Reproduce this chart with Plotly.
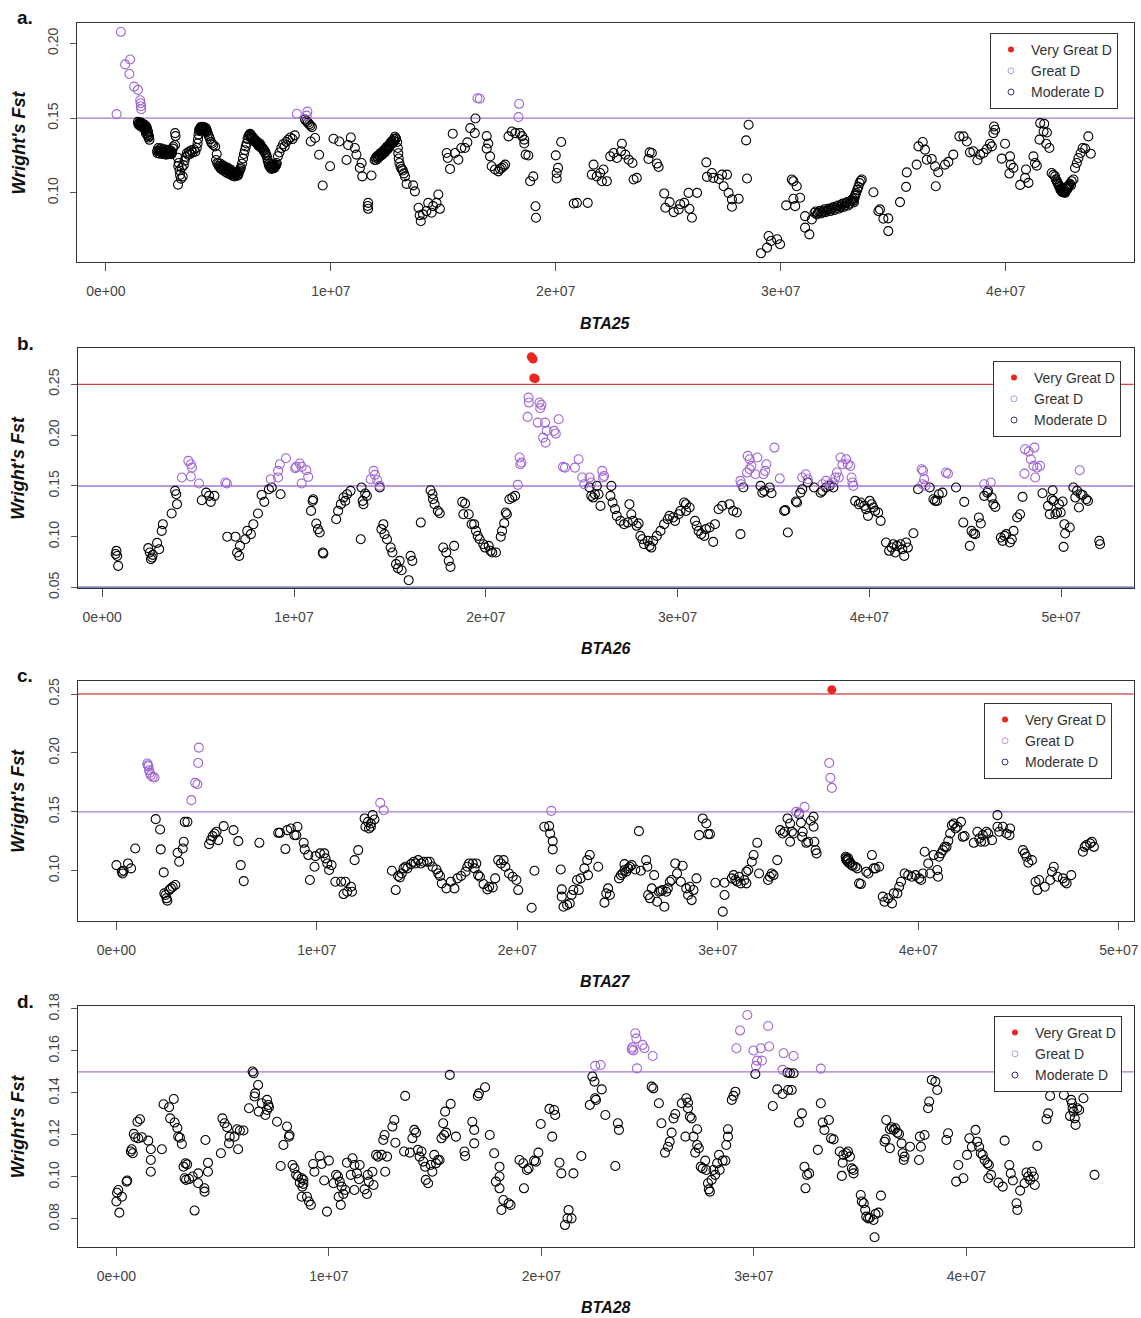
import plotly.graph_objects as go

# ---------------- DATA (positions in Mb, Wright's Fst) ----------------
A_MODERATE = [
    (1.43,0.1475),(1.48,0.1468),(1.52,0.1462),(1.56,0.1470),(1.6,0.1455),(1.63,0.1462),(1.66,0.1448),(1.7,0.1458),
    (1.73,0.1440),(1.76,0.1445),(1.8,0.1420),(1.83,0.1432),(1.78,0.1400),(1.85,0.1385),(1.9,0.1370),(1.94,0.1355),(1.88,0.1410),
    (1.45,0.1460),(1.5,0.1450),(1.55,0.1458),(1.58,0.1445),(1.62,0.1440),(1.68,0.1435),(1.72,0.1425),(1.75,0.1430),(1.8,0.1445),
    (1.84,0.1400),(1.87,0.1390),(1.92,0.1380),
    (2.28,0.1280),(2.33,0.1300),(2.37,0.1290),(2.41,0.1275),(2.45,0.1298),(2.5,0.1285),(2.54,0.1270),(2.58,0.1292),(2.62,0.1280),
    (2.66,0.1265),(2.7,0.1288),(2.74,0.1272),(2.78,0.1258),(2.82,0.1278),(2.86,0.1265),(2.9,0.1282),(2.94,0.1270),(2.98,0.1296),(3.0,0.1310),
    (2.3,0.1265),(2.35,0.1278),(2.4,0.1262),(2.46,0.1272),(2.52,0.1260),(2.56,0.1275),(2.6,0.1262),(2.64,0.1276),(2.68,0.1255),
    (2.72,0.1262),(2.76,0.1270),(2.8,0.1260),(2.84,0.1285),(2.88,0.1268),(2.92,0.1258),
    (3.08,0.1400),(3.1,0.1380),(3.08,0.1320),
    (3.2,0.1235),(3.24,0.1200),(3.22,0.1180),(3.28,0.1150),(3.3,0.1120),(3.21,0.1055),(3.34,0.1095),(3.38,0.1170),(3.42,0.1110),
    (3.46,0.1185),(3.5,0.1215),(3.55,0.1240),(3.6,0.1265),(3.66,0.1255),(3.7,0.1275),(3.75,0.1260),(3.8,0.1285),(3.86,0.1270),
    (3.92,0.1290),(3.98,0.1275),(4.04,0.1300),(4.08,0.1330),(4.1,0.1360),
    (4.12,0.1390),(4.15,0.1415),(4.18,0.1430),(4.22,0.1440),(4.26,0.1435),(4.3,0.1442),(4.34,0.1430),(4.38,0.1438),(4.42,0.1425),
    (4.46,0.1432),(4.5,0.1415),(4.54,0.1395),(4.58,0.1380),(4.63,0.1360),(4.68,0.1340),(4.72,0.1330),(4.78,0.1320),(4.86,0.1310),(4.93,0.1260),
    (4.16,0.1425),(4.2,0.1420),(4.24,0.1428),(4.28,0.1420),(4.32,0.1418),(4.36,0.1422),(4.4,0.1412),(4.44,0.1418),(4.48,0.1405),
    (4.9,0.1220),(4.95,0.1200),(5.0,0.1195),(5.05,0.1180),(5.1,0.1195),(5.15,0.1175),(5.2,0.1165),(5.25,0.1180),(5.3,0.1160),
    (5.35,0.1150),(5.4,0.1170),(5.45,0.1145),(5.5,0.1140),(5.55,0.1155),(5.6,0.1130),(5.65,0.1125),(5.7,0.1140),(5.75,0.1120),
    (5.8,0.1135),(5.85,0.1115),(5.9,0.1130),(5.95,0.1150),(6.0,0.1170),(6.05,0.1195),
    (5.02,0.1180),(5.08,0.1170),(5.12,0.1160),(5.18,0.1185),(5.22,0.1150),(5.28,0.1170),(5.32,0.1140),(5.38,0.1155),(5.42,0.1130),
    (5.48,0.1160),(5.52,0.1125),(5.58,0.1145),(5.62,0.1115),(5.68,0.1130),(5.72,0.1110),(5.78,0.1125),(5.82,0.1140),(5.88,0.1120),
    (5.92,0.1140),(5.98,0.1160),
    (6.1,0.1230),(6.14,0.1260),(6.18,0.1285),(6.22,0.1310),(6.26,0.1330),(6.3,0.1360),(6.34,0.1380),(6.38,0.1390),
    (6.42,0.1395),(6.46,0.1385),(6.5,0.1378),(6.55,0.1370),(6.6,0.1360),(6.65,0.1350),(6.7,0.1345),(6.75,0.1335),(6.8,0.1325),
    (6.85,0.1330),(6.9,0.1315),(6.95,0.1305),(7.0,0.1295),(7.05,0.1285),(7.1,0.1270),(7.15,0.1250),
    (6.44,0.1380),(6.48,0.1368),(6.52,0.1362),(6.58,0.1350),(6.62,0.1345),(6.68,0.1335),(6.72,0.1330),(6.78,0.1318),(6.82,0.1312),
    (6.88,0.1305),(6.92,0.1300),(6.98,0.1290),(7.02,0.1280),(7.08,0.1268),(7.12,0.1255),
    (7.18,0.1230),(7.22,0.1210),(7.26,0.1195),(7.3,0.1180),(7.34,0.1170),(7.38,0.1185),(7.42,0.1165),(7.46,0.1175),(7.5,0.1190),
    (7.55,0.1180),(7.6,0.1200),
    (7.2,0.1215),(7.24,0.1190),(7.28,0.1175),(7.32,0.1185),(7.36,0.1160),(7.4,0.1175),(7.44,0.1185),(7.48,0.1165),(7.52,0.1175),(7.58,0.1190),
    (7.65,0.1245),(7.72,0.1270),(7.8,0.1300),(7.88,0.1325),(7.95,0.1310),(8.02,0.1340),(8.1,0.1355),(8.2,0.1370),(8.3,0.1360),(8.4,0.1385),
    (8.86,0.1490),(8.92,0.1480),(8.98,0.1470),(9.04,0.1460),(9.1,0.1450),(9.16,0.1440),(9.11,0.1344),(9.3,0.1367),(9.48,0.1255),
    (9.64,0.1049),(9.97,0.1178),(10.12,0.1362),(10.38,0.1344),(10.7,0.1220),(10.77,0.1320),(10.89,0.1370),(11.07,0.1300),
    (11.14,0.1256),(11.29,0.1167),(11.37,0.1200),(11.4,0.1110),(11.66,0.0933),(11.66,0.0893),(11.64,0.0912),(11.81,0.1116),
    (11.95,0.1220),(12.0,0.1235),(12.05,0.1245),(12.1,0.1230),(12.15,0.1255),(12.2,0.1265),(12.25,0.1250),(12.3,0.1275),(12.35,0.1285),
    (12.4,0.1270),(12.45,0.1300),(12.5,0.1310),(12.55,0.1295),(12.6,0.1320),(12.65,0.1335),(12.7,0.1345),(12.75,0.1330),(12.8,0.1360),
    (12.85,0.1375),(12.9,0.1365),(12.95,0.1340),(12.98,0.1300),(13.0,0.1265),(13.02,0.1230),(13.05,0.1200),(13.1,0.1175),(13.15,0.1160),
    (13.2,0.1150),(13.25,0.1130),(13.3,0.1110),(13.37,0.1060),(13.66,0.1050),(13.74,0.1010),
    (12.02,0.1220),(12.08,0.1240),(12.12,0.1250),(12.18,0.1245),(12.22,0.1260),(12.28,0.1265),(12.32,0.1260),(12.38,0.1280),
    (12.42,0.1290),(12.48,0.1285),(12.52,0.1300),(12.58,0.1310),(12.62,0.1315),(12.68,0.1330),(12.72,0.1340),(12.78,0.1350),
    (12.82,0.1345),(12.88,0.1360),
    (13.9,0.0900),(14.0,0.0810),(13.95,0.0850),(14.1,0.0856),(14.25,0.0878),(14.33,0.0933),(14.48,0.0867),(14.55,0.0911),(14.7,0.0933),
    (14.78,0.0989),(14.85,0.0893),
    (15.15,0.1267),(15.2,0.1233),(15.3,0.1160),(15.42,0.1396),(15.52,0.1267),(15.67,0.1222),(15.8,0.1300),(15.96,0.1300),(16.07,0.1338),
    (16.2,0.1433),(16.4,0.1400),(16.43,0.1498),(16.93,0.1380),(17.0,0.1330),(17.08,0.1244),(16.93,0.1296),(17.15,0.1178),(17.3,0.1156),
    (17.45,0.1144),(17.52,0.1160),(17.6,0.1167),(17.68,0.1178),(17.75,0.1189),(17.9,0.1378),(18.05,0.1411),(18.2,0.1400),(18.4,0.1400),
    (18.5,0.1380),(18.6,0.1356),(18.6,0.1330),(18.66,0.1256),(18.78,0.1250),(18.86,0.1078),(19.0,0.1110),(19.1,0.0910),(19.12,0.0833),
    (20.0,0.1251),(20.04,0.1133),(20.1,0.1167),(20.04,0.1096),(20.24,0.1340),(20.8,0.0929),(20.94,0.0933),(21.42,0.0933),
    (21.68,0.1189),(21.6,0.1122),(21.82,0.1110),(21.97,0.1133),(22.05,0.1078),(22.27,0.1078),(22.12,0.1156),(22.42,0.1244),
    (22.57,0.1267),(22.72,0.1233),(22.94,0.1329),(22.9,0.1278),(23.09,0.1256),(23.24,0.1222),(23.41,0.1200),(23.46,0.1089),(23.6,0.1100),
    (24.17,0.1271),(24.27,0.1267),(24.12,0.1227),(24.5,0.1196),(24.57,0.1173),(24.82,0.0996),(24.87,0.0900),(25.06,0.0938),
    (25.24,0.0871),(25.46,0.0889),(25.53,0.0924),(25.71,0.0933),(25.9,0.1000),(25.94,0.0893),(26.05,0.0833),(26.28,0.1000),
    (26.69,0.1204),(26.72,0.1107),(26.94,0.1133),(27.0,0.1100),(27.25,0.1093),(27.39,0.1122),(27.46,0.1044),(27.61,0.1122),
    (27.68,0.1000),(27.83,0.0956),(27.83,0.0907),(28.13,0.0960),(28.46,0.1351),(28.5,0.1096),(28.57,0.1456),
    (29.12,0.0596),(29.39,0.0633),(29.46,0.0711),(29.57,0.0678),(29.84,0.0689),(29.97,0.0656),
    (30.24,0.0916),(30.56,0.0960),(30.64,0.0911),(30.49,0.1089),(30.56,0.1078),(30.71,0.1044),(30.86,0.0967),(31.08,0.0767),
    (31.27,0.0722),(31.38,0.0822),(31.08,0.0844),
    (31.5,0.0867),(31.6,0.0855),(31.7,0.0875),(31.8,0.0862),(31.9,0.0880),(32.0,0.0870),(32.1,0.0890),(32.2,0.0878),(32.3,0.0900),
    (32.4,0.0885),(32.5,0.0910),(32.6,0.0895),(32.7,0.0920),(32.8,0.0905),(32.9,0.0930),(33.0,0.0915),(33.1,0.0945),(33.2,0.0960),
    (33.25,0.0935),(33.3,0.0980),(33.35,0.1000),(33.4,0.1020),(33.45,0.1040),(33.5,0.1065),(33.55,0.1080),(33.6,0.1089),
    (31.55,0.0875),(31.65,0.0865),(31.75,0.0880),(31.85,0.0870),(31.95,0.0890),(32.05,0.0880),(32.15,0.0895),(32.25,0.0890),
    (32.35,0.0905),(32.45,0.0895),(32.55,0.0915),(32.65,0.0905),(32.75,0.0928),(32.85,0.0915),(32.95,0.0938),(33.05,0.0928),
    (33.15,0.0950),(33.22,0.0945),(33.28,0.0965),(33.32,0.0990),
    (34.12,0.1004),(34.34,0.0878),(34.41,0.0889),(34.56,0.0827),(34.78,0.0829),(34.78,0.0744),(35.3,0.0938),(35.57,0.1040),
    (35.6,0.1137),(36.04,0.1189),(36.12,0.1311),(36.31,0.1340),(36.41,0.1289),(36.49,0.1222),(36.71,0.1227),(36.86,0.1178),
    (36.89,0.1044),(37.0,0.1138),(37.3,0.1189),(37.45,0.1207),(37.67,0.1256),(37.94,0.1378),(38.12,0.1378),(38.27,0.1344),
    (38.41,0.1271),(38.56,0.1278),(38.74,0.1218),(38.86,0.1256),(39.01,0.1267),(39.16,0.1293),(39.3,0.1329),(39.38,0.1311),
    (39.45,0.1400),(39.48,0.1444),(39.53,0.1422),(39.82,0.1229),(39.97,0.1329),(40.19,0.1244),(40.22,0.1189),(40.16,0.1129),
    (40.34,0.1167),(40.64,0.1053),(40.86,0.1100),(41.01,0.1067),(40.9,0.1156),(41.23,0.1244),(41.3,0.1200),(41.38,0.1182),
    (41.53,0.1467),(41.71,0.1462),(41.5,0.1356),(41.68,0.1411),(41.83,0.1404),(41.8,0.1329),(41.94,0.1300),
    (42.04,0.1133),(42.12,0.1120),(42.19,0.1110),(42.23,0.1090),(42.27,0.1078),(42.32,0.1060),(42.36,0.1050),(42.41,0.1044),
    (42.45,0.1030),(42.49,0.1011),(42.53,0.1020),(42.57,0.1005),(42.6,0.1015),(42.64,0.1000),(42.68,0.1025),(42.72,0.1040),
    (42.76,0.1035),(42.79,0.1044),(42.85,0.1060),(42.9,0.1050),(42.93,0.1078),(43.01,0.1089),
    (42.3,0.1070),(42.38,0.1040),(42.43,0.1020),(42.47,0.1025),(42.51,0.1005),(42.55,0.1012),(42.62,0.1005),(42.66,0.1012),
    (42.7,0.1030),(42.74,0.1025),(42.82,0.1050),
    (43.08,0.1167),(43.16,0.1200),(43.23,0.1233),(43.33,0.1267),(43.42,0.1300),(43.53,0.1296),(43.67,0.1378),(43.78,0.1262),
]
A_GREAT = [
    (0.48,0.1527),(0.67,0.2078),(0.86,0.1860),(1.05,0.1796),(1.08,0.1893),(1.26,0.1711),(1.43,0.1689),(1.53,0.1620),
    (1.55,0.1600),(1.56,0.1580),(1.57,0.1560),(8.49,0.1529),(8.96,0.1544),(8.93,0.1517),(16.52,0.1633),(16.62,0.1630),
    (18.37,0.1596),(18.34,0.1507),(43.93,0.1604),(44.02,0.1693),
]
A_VERY_GREAT = []

B_MODERATE = [
    (0.7,0.0830),(0.74,0.0860),(0.78,0.0810),(0.83,0.0713),
    (2.4,0.0887),(2.48,0.0844),(2.54,0.0779),(2.6,0.0795),(2.63,0.0821),(2.86,0.0939),(2.97,0.0877),(3.1,0.1057),(3.16,0.1123),
    (3.62,0.1228),(3.9,0.1320),(3.8,0.1451),(3.86,0.1418),
    (5.19,0.1359),(5.42,0.1434),(5.57,0.1402),(5.66,0.1343),(5.85,0.1402),
    (6.52,0.1000),(6.95,0.1000),(7.03,0.0844),(7.14,0.0811),(7.18,0.0910),(7.46,0.0975),(7.56,0.1057),(7.75,0.1025),(7.88,0.1123),
    (8.12,0.1228),(8.31,0.1411),(8.45,0.1343),(8.69,0.1467),(8.84,0.1484),(9.3,0.1418),
    (10.89,0.1254),(11.0,0.1369),(10.97,0.1352),(11.16,0.1130),(11.25,0.1074),(11.34,0.1041),(11.5,0.0844),(11.53,0.0834),
    (12.2,0.1172),(12.3,0.1254),(12.44,0.1320),(12.58,0.1385),(12.67,0.1352),(12.77,0.1418),(12.95,0.1451),
    (13.48,0.0975),(13.52,0.1484),(13.58,0.1352),(13.62,0.1320),(13.71,0.1425),(13.8,0.1402),(14.47,0.1484),
    (14.56,0.1074),(14.66,0.1123),(14.72,0.1025),(14.85,0.0975),(15.04,0.0893),(15.13,0.0844),(15.32,0.0730),(15.42,0.0690),
    (15.51,0.0762),(15.61,0.0670),(15.98,0.0572),(16.08,0.0811),(16.17,0.0762),(16.61,0.1139),
    (17.12,0.1457),(17.22,0.1418),(17.25,0.1369),(17.33,0.1320),(17.5,0.1254),(17.6,0.1231),
    (17.78,0.0893),(17.94,0.0844),(18.07,0.0762),(18.16,0.0703),(18.35,0.0910),
    (18.77,0.1343),(18.83,0.1221),(18.92,0.1326),(19.11,0.1221),(19.26,0.1123),(19.39,0.1123),(19.49,0.1057),(19.58,0.1008),
    (19.68,0.0975),(19.87,0.0926),(19.96,0.0893),(20.15,0.0910),(20.25,0.0861),(20.34,0.0844),(20.53,0.0844),
    (20.78,0.1000),(20.85,0.1057),(20.96,0.1133),(21.04,0.1238),(21.1,0.1221),(21.23,0.1369),(21.38,0.1385),(21.53,0.1402),
    (25.41,0.1484),(25.5,0.1402),(25.6,0.1385),(25.69,0.1418),(25.79,0.1500),(25.88,0.1418),(25.98,0.1303),(26.55,0.1500),
    (26.5,0.1402),(26.61,0.1336),(26.74,0.1271),(26.83,0.1205),(27.02,0.1156),(27.21,0.1123),(27.4,0.1139),(27.49,0.1320),
    (27.59,0.1221),(27.68,0.1156),(27.87,0.1107),(27.97,0.1131),
    (28.06,0.1008),(28.16,0.0975),(28.25,0.0926),(28.44,0.0959),(28.54,0.0910),(28.63,0.0893),(28.73,0.0959),(28.92,0.1008),
    (29.11,0.1057),(29.3,0.1123),(29.49,0.1172),(29.58,0.1205),(29.77,0.1189),(29.87,0.1156),(30.06,0.1221),(30.15,0.1254),
    (30.34,0.1336),(30.44,0.1320),(30.63,0.1287),(30.44,0.1254),
    (30.91,0.1156),(31.0,0.1107),(31.1,0.1057),(31.23,0.1025),(31.39,0.1008),(31.48,0.1074),(31.67,0.1090),(31.86,0.0949),
    (31.95,0.1123),(32.14,0.1270),(32.33,0.1303),(32.71,0.1320),(32.9,0.1254),(33.09,0.1238),(33.28,0.1025),
    (33.43,0.1484),(34.33,0.1500),(34.42,0.1434),(34.52,0.1451),(34.8,0.1484),(34.9,0.1428),
    (35.56,0.1254),(35.62,0.1261),(35.75,0.1041),(36.17,0.1346),(36.23,0.1336),(36.41,0.1434),(36.5,0.1467),(36.79,0.1533),
    (37.12,0.1484),(37.46,0.1434),(37.55,0.1451),(37.74,0.1484),(37.93,0.1500),(38.12,0.1484),
    (39.26,0.1352),(39.45,0.1320),(39.55,0.1336),(39.74,0.1303),(39.83,0.1271),(39.93,0.1205),(40.02,0.1352),(40.12,0.1320),
    (40.21,0.1287),(40.3,0.1254),(40.46,0.1238),(40.59,0.1156),
    (40.87,0.0943),(41.03,0.0861),(41.16,0.0893),(41.25,0.0926),(41.35,0.0844),(41.44,0.0910),(41.63,0.0926),(41.72,0.0877),
    (41.82,0.0811),(41.92,0.0943),(42.01,0.0893),(42.3,0.1034),
    (42.54,0.1467),(43.15,0.1484),(43.34,0.1369),(43.43,0.1352),(43.53,0.1352),(43.62,0.1418),(43.81,0.1434),(44.52,0.1484),
    (44.95,0.1343),(44.9,0.1139),(45.24,0.0910),(45.33,0.1057),(45.43,0.1031),(45.52,0.1025),(45.71,0.1189),(45.81,0.1130),
    (45.99,0.1402),(46.15,0.1434),(46.19,0.1451),(46.38,0.1385),(46.47,0.1320),(46.57,0.1293),
    (46.86,0.0992),(46.95,0.0959),(47.05,0.1008),(47.14,0.1025),(47.33,0.0943),(47.43,0.0975),(47.52,0.1057),(47.71,0.1189),
    (47.86,0.1221),(47.99,0.1392),
    (49.03,0.1428),(49.32,0.1303),(49.41,0.1221),(49.51,0.1369),(49.56,0.1457),(49.6,0.1352),(49.7,0.1221),(49.79,0.1238),
    (49.89,0.1320),(49.98,0.1238),(50.08,0.1346),(50.17,0.1123),(50.21,0.1031),(50.13,0.0900),(50.45,0.1090),(50.64,0.1484),
    (50.74,0.1385),(50.83,0.1451),(50.93,0.1287),(51.02,0.1418),(51.12,0.1411),(51.31,0.1369),(51.4,0.1352),
    (51.99,0.0959),(52.03,0.0926),
]
B_GREAT = [
    (4.15,0.1582),(4.62,0.1713),(4.68,0.1680),(4.62,0.1592),(5.05,0.1523),(4.49,0.1746),(6.42,0.1533),(6.5,0.1523),
    (8.79,0.1566),(9.17,0.1648),(9.26,0.1713),(9.58,0.1772),(9.17,0.1582),
    (10.06,0.1674),(10.3,0.1720),(10.4,0.1687),(10.64,0.1654),(10.74,0.1589),(10.4,0.1523),(10.11,0.1687),
    (14.0,0.1566),(14.15,0.1648),(14.22,0.1608),(14.34,0.1556),(14.47,0.1500),
    (21.67,0.1510),(21.76,0.1779),(21.8,0.1713),(21.86,0.1730),(22.18,0.2179),(22.23,0.2369),(22.25,0.2320),(22.71,0.2123),
    (22.8,0.2320),(22.84,0.2264),(22.9,0.2297),(23.09,0.2123),(22.99,0.1975),(23.12,0.1926),(23.18,0.2041),(23.56,0.2041),
    (23.65,0.2015),(23.8,0.2156),(24.03,0.1687),(24.13,0.1680),
    (24.65,0.1680),(24.84,0.1762),(25.03,0.1582),(25.13,0.1516),(25.41,0.1582),(25.5,0.1533),(26.07,0.1648),(26.11,0.1582),(26.17,0.1598),
    (33.28,0.1549),(33.32,0.1516),(33.66,0.1795),(33.76,0.1762),(33.85,0.1697),(33.76,0.1664),(33.62,0.1631),(34.16,0.1779),
    (34.06,0.1615),(34.48,0.1615),(34.57,0.1648),(34.63,0.1713),(35.05,0.1877),(35.33,0.1572),
    (36.5,0.1582),(36.69,0.1615),(36.79,0.1566),(37.55,0.1516),(37.74,0.1549),(37.93,0.1516),(38.12,0.1533),(38.22,0.1582),
    (38.31,0.1631),(38.41,0.1582),(38.5,0.1779),(38.6,0.1713),(38.79,0.1762),(38.88,0.1713),(39.01,0.1697),(39.07,0.1582),
    (39.12,0.1533),(39.17,0.1500),
    (42.73,0.1664),(42.8,0.1648),(42.86,0.1566),(42.77,0.1516),(42.92,0.1500),(44.0,0.1631),(44.1,0.1621),
    (45.99,0.1516),(46.33,0.1533),
    (48.09,0.1621),(48.12,0.1860),(48.31,0.1838),(48.42,0.1762),(48.56,0.1697),(48.65,0.1582),(48.61,0.1877),(48.75,0.1680),
    (48.9,0.1697),(50.97,0.1654),
]
B_VERY_GREAT = [(22.37,0.2770),(22.42,0.2760),(22.47,0.2748),(22.5,0.2562),(22.58,0.2555)]

C_MODERATE = [
    (0.0,0.1048),(0.27,0.0992),(0.31,0.0977),(0.36,0.1000),(0.58,0.1062),(0.73,0.1020),(0.94,0.1189),
    (1.96,0.1438),(2.18,0.1350),(2.21,0.1181),(2.36,0.0986),(2.39,0.0808),(2.45,0.0794),(2.5,0.0766),(2.54,0.0746),(2.63,0.0836),
    (2.72,0.0850),(2.81,0.0864),(2.94,0.0879),(3.05,0.1153),(3.13,0.1076),(3.31,0.1189),(3.36,0.1246),(3.41,0.1415),(3.54,0.1415),
    (4.62,0.1226),(4.71,0.1260),(4.8,0.1294),(4.9,0.1316),(4.99,0.1331),(5.08,0.1260),(5.35,0.1379),(5.84,0.1345),(6.08,0.1251),
    (6.2,0.1048),(6.35,0.0912),(7.13,0.1237),
    (8.07,0.1322),(8.16,0.1322),(8.43,0.1184),(8.52,0.1345),(8.7,0.1359),(8.88,0.1302),(8.97,0.1302),(9.03,0.1373),
    (9.34,0.1237),(9.39,0.1181),(9.57,0.1133),(9.65,0.0921),(9.93,0.1124),(9.88,0.1034),(10.16,0.1147),(10.37,0.1147),
    (10.43,0.1105),(10.52,0.1062),(10.61,0.1006),(10.73,0.1048),
    (10.92,0.0907),(11.21,0.0907),(11.33,0.0802),(11.42,0.0907),(11.51,0.0822),(11.7,0.0864),(11.75,0.0822),(11.88,0.1090),(12.06,0.1175),
    (12.38,0.1444),(12.42,0.1373),(12.55,0.1415),(12.6,0.1359),(12.69,0.1373),(12.78,0.1472),(12.87,0.1435),(12.69,0.1401),
    (13.74,0.1000),(13.93,0.0836),(14.05,0.0955),(14.14,0.0944),(14.23,0.0977),(14.32,0.1020),(14.42,0.1034),(14.51,0.1020),
    (14.69,0.1056),(14.83,0.1076),(14.92,0.1062),(15.05,0.1090),(15.19,0.1062),(15.32,0.1076),(15.5,0.1076),(15.63,0.1076),
    (15.77,0.1034),(15.96,0.1011),(16.05,0.0977),(16.14,0.0955),(16.23,0.0893),(16.46,0.0850),(16.68,0.0907),(16.86,0.0850),
    (17.01,0.0935),(17.19,0.0955),(17.41,0.0992),(17.5,0.1034),(17.59,0.1062),(17.77,0.1062),(17.95,0.1062),(17.86,0.1020),
    (18.04,0.0963),(18.13,0.0949),(18.31,0.0887),(18.5,0.0842),(18.59,0.0864),(18.77,0.0859),(18.89,0.0935),(19.04,0.1090),
    (19.18,0.1062),(19.31,0.1090),(19.4,0.1034),(19.58,0.0977),(19.76,0.0949),(19.95,0.0921),(20.04,0.0836),(20.71,0.0686),
    (20.85,0.1000),(21.34,0.1373),(21.58,0.1379),(21.63,0.1316),(21.76,0.1251),(21.76,0.1181),
    (22.16,0.1011),(22.21,0.0842),(22.21,0.0780),(22.3,0.0695),(22.48,0.0709),
    (22.61,0.0723),(22.7,0.0794),(22.79,0.0836),(22.97,0.0921),(23.06,0.0836),(23.15,0.0935),(23.34,0.1020),(23.48,0.1090),
    (23.61,0.1133),(23.52,0.0963),(24.03,0.1034),(24.34,0.0729),(24.43,0.0808),(24.52,0.0850),(24.61,0.0794),
    (25.07,0.0935),(25.16,0.0963),(25.25,0.0977),(25.34,0.1006),(25.43,0.0992),(25.52,0.1020),(25.61,0.1034),(25.34,0.1056),
    (25.7,0.1048),(25.88,0.1011),(26.06,0.1336),(26.15,0.1000),(26.42,0.1090),(26.48,0.1034),
    (26.52,0.0794),(26.61,0.0766),(26.7,0.0850),(26.82,0.0963),(26.97,0.0737),(27.06,0.0822),(27.15,0.0828),(27.24,0.0836),
    (27.33,0.0695),(27.42,0.0822),(27.5,0.0850),(27.6,0.0907),(27.69,0.0921),(27.87,0.1062),(27.96,0.0977),(28.15,0.0907),
    (28.24,0.1042),(28.42,0.0850),(28.51,0.0794),(28.6,0.0864),(28.69,0.0751),(28.78,0.0836),(28.93,0.0935),
    (29.06,0.1302),(29.24,0.1444),(29.42,0.1401),(29.51,0.1311),(29.6,0.1311),
    (29.87,0.0898),(30.24,0.0653),(30.33,0.0898),(30.33,0.0794),
    (30.69,0.0935),(30.78,0.0963),(30.87,0.0921),(30.96,0.0907),(31.05,0.0949),(31.14,0.0893),(31.32,0.0921),(31.42,0.0992),
    (31.51,0.1006),(31.42,0.0893),(31.69,0.1076),(31.78,0.1133),(31.96,0.1237),(32.05,0.0977),(32.5,0.0921),(32.59,0.0949),
    (32.68,0.0977),(32.77,0.0963),(32.96,0.1090),
    (33.1,0.1345),(33.23,0.1316),(33.32,0.1331),(33.47,0.1444),(33.6,0.1401),(33.6,0.1246),(33.69,0.1331),(33.78,0.1316),
    (34.05,0.1480),(34.14,0.1407),(34.2,0.1288),(34.23,0.1331),(34.41,0.1237),(34.5,0.1246),(34.63,0.1424),(34.77,0.1458),
    (34.77,0.1373),(34.81,0.1246),(34.87,0.1175),(34.92,0.1147),
    (36.37,0.1119),(36.41,0.1090),(36.5,0.1105),(36.55,0.1062),(36.68,0.1048),(36.86,0.1034),(36.95,0.1020),(37.04,0.0893),
    (36.39,0.1105),(36.45,0.1098),(36.47,0.1080),(36.6,0.1070),(36.72,0.1040),
    (37.13,0.0887),(37.4,0.0992),(37.5,0.0977),(37.68,0.1133),(37.77,0.1020),(37.86,0.1020),(38.04,0.1034),(38.22,0.0780),
    (38.31,0.0737),(38.49,0.0766),(38.68,0.0723),(38.77,0.0808),(38.95,0.0808),(39.04,0.0864),(39.13,0.0907),(39.31,0.0977),
    (39.49,0.0963),(39.67,0.0949),(39.85,0.0963),(40.04,0.0935),(40.13,0.0921),(40.22,0.0977),(40.31,0.1161),(40.49,0.1062),
    (40.58,0.0977),(40.76,0.1133),(40.94,0.1006),(40.98,0.0949),
    (41.03,0.1119),(41.12,0.1147),(41.22,0.1175),(41.31,0.1203),(41.4,0.1203),(41.49,0.1254),(41.58,0.1316),(41.67,0.1387),
    (41.76,0.1401),(41.85,0.1359),(41.94,0.1373),(42.12,0.1415),(42.21,0.1288),(42.3,0.1294),
    (42.76,0.1237),(42.94,0.1331),(43.03,0.1274),(43.12,0.1246),(43.21,0.1302),(43.3,0.1246),(43.39,0.1331),(43.48,0.1316),
    (43.67,0.1260),(43.94,0.1472),(43.94,0.1373),(44.03,0.1331),(44.21,0.1373),(44.39,0.1316),(44.57,0.1359),(44.54,0.1302),
    (45.21,0.1175),(45.3,0.1147),(45.39,0.1119),(45.48,0.1068),(45.66,0.1090),(45.84,0.0907),(45.93,0.0836),(46.02,0.0921),
    (46.3,0.0864),(46.57,0.0921),(46.66,0.0992),(46.75,0.1034),(46.93,0.0949),(47.2,0.0935),(47.29,0.0907),(47.39,0.0893),(47.62,0.0963),
    (48.2,0.1161),(48.29,0.1203),(48.38,0.1218),(48.56,0.1232),(48.65,0.1246),(48.75,0.1203),
]
C_GREAT = [
    (1.54,0.1910),(1.57,0.1895),(1.6,0.1887),(1.63,0.1853),(1.67,0.1831),(1.72,0.1811),(1.81,0.1797),(1.9,0.1791),
    (3.74,0.1599),(3.93,0.1746),(4.04,0.1734),(4.08,0.1915),(4.11,0.2045),(13.16,0.1576),(13.33,0.1514),(21.69,0.1508),
    (33.9,0.1500),(34.05,0.1492),(34.32,0.1542),(35.55,0.1915),(35.61,0.1788),(35.68,0.1703),
]
C_VERY_GREAT = [(35.68,0.2537)]

D_MODERATE = [
    (0.0,0.0883),(0.09,0.0938),(0.03,0.0925),(0.14,0.0830),(0.26,0.0906),(0.48,0.0978),(0.51,0.0983),
    (0.68,0.1121),(0.72,0.1132),(0.77,0.1113),(0.82,0.1205),(0.89,0.1189),(0.99,0.1263),(1.11,0.1275),(1.2,0.1189),(1.03,0.1184),
    (1.5,0.1173),(1.62,0.1132),(1.62,0.1081),(1.62,0.1025),(2.14,0.1132),(2.22,0.1346),(2.48,0.1332),(2.7,0.1371),(2.53,0.1279),
    (2.74,0.1259),(2.91,0.1192),(2.99,0.1187),(3.08,0.1157),(2.87,0.1233),
    (3.16,0.1049),(3.25,0.1065),(3.33,0.1060),(3.21,0.0994),(3.28,0.0986),(3.42,0.0990),(3.59,0.1002),(3.68,0.0840),(3.85,0.1017),(3.85,0.0970),
    (4.14,0.0946),(4.15,0.0930),(4.19,0.1176),(4.31,0.1068),(4.31,0.1025),
    (4.92,0.1113),(4.99,0.1279),(5.09,0.1256),(5.21,0.1237),(5.3,0.1160),(5.33,0.1192),(5.56,0.1192),(5.68,0.1227),(5.73,0.1132),
    (5.81,0.1221),(5.98,0.1221),
    (6.24,0.1327),(6.41,0.1502),(6.46,0.1494),(6.5,0.1383),(6.53,0.1398),(6.67,0.1438),(6.7,0.1311),(6.84,0.1351),(7.01,0.1295),
    (7.09,0.1367),(7.15,0.1343),(7.18,0.1332),(7.09,0.1319),
    (7.56,0.1263),(7.86,0.1152),(7.73,0.1052),(8.03,0.1240),(8.12,0.1192),(8.15,0.1200),
    (8.29,0.1057),(8.38,0.1041),(8.46,0.1010),(8.55,0.1002),(8.63,0.0973),(8.72,0.0994),(8.75,0.0954),(8.8,0.0967),(8.8,0.0986),
    (8.72,0.0906),(8.97,0.0906),(9.06,0.0883),(9.15,0.0867),
    (9.26,0.1062),(9.32,0.1025),(9.57,0.1100),(9.66,0.1062),(9.78,0.0983),(9.91,0.0835),(10.0,0.1078),
    (10.22,0.0970),(10.34,0.1010),(10.43,0.1002),(10.51,0.0978),(10.46,0.0906),(10.56,0.0867),(10.6,0.0954),(10.68,0.0919),
    (10.77,0.0938),(10.85,0.1068),(11.03,0.1010),(11.11,0.1089),(11.2,0.1057),(11.2,0.0938),(11.32,0.1017),(11.42,0.0989),(11.45,0.1057),
    (11.68,0.0941),(11.79,0.0919),(11.83,0.1010),(11.88,0.0978),(12.05,0.1025),(12.1,0.0962),(12.22,0.1105),(12.31,0.1097),
    (12.48,0.1105),(12.65,0.1025),(12.56,0.1176),(12.62,0.1200),(12.74,0.1097),(12.99,0.1240),(13.08,0.1271),(13.13,0.1163),
    (13.59,0.1386),(13.54,0.1121),(13.81,0.1116),(13.93,0.1184),(14.02,0.1224),(14.1,0.1211),(14.19,0.1129),(14.27,0.1097),
    (14.36,0.1121),(14.44,0.1073),(14.53,0.1049),(14.56,0.0986),(14.67,0.0970),(14.79,0.1057),(14.87,0.1025),(14.96,0.1105),
    (15.04,0.1065),(15.13,0.1081),(15.21,0.1081),(15.3,0.1184),(15.38,0.1256),(15.42,0.1200),(15.47,0.1311),(15.52,0.1211),
    (15.73,0.1348),(15.69,0.1486),(15.98,0.1192),
    (16.38,0.1121),(16.41,0.1100),(16.75,0.1263),(16.84,0.1224),(16.84,0.1160),(17.01,0.1386),(17.06,0.1398),(17.35,0.1427),
    (17.57,0.1200),(17.78,0.1113),(17.86,0.0978),(18.03,0.1049),(18.03,0.1002),(18.03,0.0946),(18.21,0.0890),(18.12,0.0843),
    (18.46,0.0875),(18.55,0.0867),(18.97,0.1081),(19.15,0.1065),(19.18,0.0946),(19.32,0.1033),(19.4,0.1041),(19.66,0.1078),
    (19.74,0.1073),(19.86,0.1116),(19.97,0.1252),
    (20.38,0.1324),(20.6,0.1319),(20.51,0.1192),(20.65,0.1295),(20.85,0.1068),(20.94,0.1017),(21.11,0.0771),(21.23,0.0803),(21.28,0.0843),
    (21.42,0.0803),(21.51,0.1017),(21.88,0.1100),(22.28,0.1343),(22.4,0.1478),(22.5,0.1454),(22.53,0.1375),(22.57,0.1367),
    (22.84,0.1417),(23.01,0.1295),(23.48,0.1052),(23.6,0.1256),(23.65,0.1224),
    (25.19,0.1430),(25.27,0.1422),(25.53,0.1351),(25.65,0.1256),(25.82,0.1116),(25.96,0.1144),(26.04,0.1168),(26.13,0.1211),
    (26.22,0.1279),(26.3,0.1300),(26.61,0.1351),(26.78,0.1192),(26.82,0.1375),(26.9,0.1354),(26.9,0.1327),(26.99,0.1287),
    (27.07,0.1279),(27.16,0.1192),(27.24,0.1116),(27.33,0.1227),(27.33,0.1152),(27.41,0.1137),(27.5,0.1049),(27.59,0.1041),
    (27.71,0.1078),(27.76,0.1033),(27.84,0.0970),(27.88,0.0941),(27.93,0.0930),(28.01,0.0986),(28.1,0.1033),(28.18,0.1010),
    (28.27,0.1065),(28.36,0.1105),(28.39,0.1033),(28.53,0.1078),(28.66,0.1078),(28.7,0.1152),(28.78,0.1192),(28.78,0.1227),
    (28.96,0.1367),(29.04,0.1386),(29.13,0.1406),
    (30.07,0.1490),(30.89,0.1338),(31.1,0.1417),(31.35,0.1395),(31.58,0.1497),(31.7,0.1494),(31.87,0.1494),(31.61,0.1414),
    (31.78,0.1414),(32.12,0.1259),(32.26,0.1303),(32.38,0.1049),(32.43,0.0946),(32.5,0.1010),(32.6,0.1017),(33.01,0.1129),
    (33.15,0.1351),(33.24,0.1259),(33.32,0.1224),(33.53,0.1271),(33.63,0.1184),(33.75,0.1179),(34.04,0.1121),(34.14,0.1005),
    (34.18,0.1068),(34.21,0.1105),(34.35,0.1113),(34.43,0.1121),(34.52,0.1097),(34.61,0.1041),(34.69,0.1033),(34.69,0.1017),
    (35.03,0.0914),(35.08,0.0883),(35.17,0.0875),(35.24,0.0843),(35.29,0.0811),(35.38,0.0803),(35.46,0.0806),(35.63,0.0795),
    (35.72,0.0824),(35.86,0.0830),(35.98,0.0911),(35.68,0.0713),
    (36.23,0.1271),(36.4,0.1227),(36.49,0.1237),(36.58,0.1224),(36.66,0.1232),(36.75,0.1211),(36.83,0.1205),(36.15,0.1168),
    (36.2,0.1179),(36.4,0.1137),(36.95,0.1160),(37.0,0.1113),(37.05,0.1081),(37.09,0.1097),(37.35,0.1144),(37.77,0.1081),
    (37.86,0.1144),(37.81,0.1192),(38.03,0.1200),(38.2,0.1327),(38.25,0.1359),(38.37,0.1462),(38.54,0.1454),(38.63,0.1414),
    (39.06,0.1176),(39.14,0.1208),(39.52,0.0978),(39.62,0.1057),(39.86,0.0994),(40.03,0.1105),(40.14,0.1184),(40.26,0.1144),
    (40.43,0.1224),(40.51,0.1168),(40.6,0.1144),(40.68,0.1113),(40.77,0.1105),(40.86,0.1081),(40.99,0.1065),(41.06,0.1057),
    (41.16,0.1010),(41.03,0.0994),(41.51,0.0973),(41.71,0.0954),(41.8,0.1173),(42.02,0.1057),(42.09,0.1017),(42.19,0.0983),
    (42.36,0.0875),(42.4,0.0843),(42.53,0.0935),(42.74,0.0970),(42.83,0.1021),(42.91,0.1002),(43.0,0.0986),(43.08,0.1025),
    (43.17,0.1002),(43.22,0.0962),(43.34,0.1148),
    (43.77,0.1275),(43.85,0.1303),(43.94,0.1386),(44.02,0.1430),(44.25,0.1462),(44.59,0.1390),(44.88,0.1290),(44.93,0.1367),
    (44.97,0.1351),(45.0,0.1327),(45.05,0.1311),(45.1,0.1279),(45.14,0.1248),(45.22,0.1327),(45.31,0.1319),(45.51,0.1375),(46.03,0.1010),
]
D_GREAT = [
    (22.53,0.1529),(22.79,0.1533),(24.25,0.1607),(24.28,0.1617),(24.33,0.1602),(24.42,0.1684),(24.47,0.1660),(24.5,0.1517),
    (24.76,0.1629),(24.85,0.1613),(25.24,0.1576),(29.18,0.1613),(29.35,0.1697),(29.69,0.1771),(29.98,0.1602),(30.15,0.1554),
    (30.1,0.1529),(30.33,0.1613),(30.38,0.1554),(30.67,0.1719),(30.72,0.1621),(31.4,0.1589),(31.35,0.1510),(31.87,0.1576),
    (33.15,0.1516),(44.2,0.1533),(44.32,0.1522),
]
D_VERY_GREAT = []

CHROMOSOMES = ["BTA25", "BTA26", "BTA27", "BTA28"]
PANEL_LABELS = ["a.", "b.", "c.", "d."]
X_TICK_VALUES = [[0, 1e7, 2e7, 3e7, 4e7], [0, 1e7, 2e7, 3e7, 4e7, 5e7],
                 [0, 1e7, 2e7, 3e7, 4e7, 5e7], [0, 1e7, 2e7, 3e7, 4e7]]
X_TICK_LABELS = ["0e+00", "1e+07", "2e+07", "3e+07", "4e+07", "5e+07"]
Y_TICK_VALUES = [[0.10, 0.15, 0.20], [0.05, 0.10, 0.15, 0.20, 0.25],
                 [0.10, 0.15, 0.20, 0.25], [0.08, 0.10, 0.12, 0.14, 0.16, 0.18]]
THRESHOLD_VERY_GREAT = 0.25
THRESHOLD_GREAT = 0.15
THRESHOLD_MODERATE = 0.05
LEGEND_NAMES = ["Very Great D", "Great D", "Moderate D"]

# ---------------- LAYOUT / STYLE ----------------
W, H = 1141, 1318
FONT = "Arial, Liberation Sans, sans-serif"
PURPLE_PT = "#A066D3"
PURPLE_LINE = "#A678CF"
RED = "#E8281E"

panels = [
    dict(mod=A_MODERATE, great=A_GREAT, vg=A_VERY_GREAT, box=(77, 1134, 23, 262),
         xr=[-1.28e6, 4.570e7], yr=[0.0537, 0.2137], legend_left=990, legend_top=33,
         lines=[(THRESHOLD_GREAT, PURPLE_LINE, 1.2)]),
    dict(mod=B_MODERATE, great=B_GREAT, vg=B_VERY_GREAT, box=(77.5, 1133.6, 348, 587.7),
         xr=[-1.29e6, 5.378e7], yr=[0.0498, 0.2857], legend_left=993, legend_top=361,
         lines=[(THRESHOLD_VERY_GREAT, "#D04545", 1.2), (THRESHOLD_GREAT, PURPLE_LINE, 1.5),
                (THRESHOLD_MODERATE, "#4A5AA8", 2)]),
    dict(mod=C_MODERATE, great=C_GREAT, vg=C_VERY_GREAT, box=(77.5, 1133.6, 680.7, 920.7),
         xr=[-1.94e6, 5.073e7], yr=[0.0576, 0.2613], legend_left=984, legend_top=703,
         lines=[(THRESHOLD_VERY_GREAT, "#E08585", 2), (THRESHOLD_GREAT, PURPLE_LINE, 1.2)]),
    dict(mod=D_MODERATE, great=D_GREAT, vg=D_VERY_GREAT, box=(77.5, 1133.6, 1006, 1246.7),
         xr=[-1.83e6, 4.787e7], yr=[0.0668, 0.1814], legend_left=994, legend_top=1016,
         lines=[(THRESHOLD_GREAT, PURPLE_LINE, 1.2)]),
]

fig = go.Figure()
layout = dict(template="none", width=W, height=H,
              margin=dict(l=0, r=0, t=0, b=0, pad=0, autoexpand=False),
              paper_bgcolor="white", plot_bgcolor="white", showlegend=True,
              font=dict(family=FONT, color="#333"))
shapes, annotations = [], []


def xs(pts):
    return [p[0] * 1e6 for p in pts]


def ys(pts):
    return [p[1] for p in pts]


for i, p in enumerate(panels):
    n = "" if i == 0 else str(i + 1)
    xa, ya = "x" + n, "y" + n
    lg = "legend" + n
    x0, x1, y0, y1 = p["box"]
    layout["xaxis" + n] = dict(
        domain=[x0 / W, x1 / W], anchor=ya, range=p["xr"], showgrid=False, zeroline=False,
        automargin=False, showline=True, mirror=True, linecolor="#333", linewidth=1,
        ticks="outside", ticklen=8, tickcolor="#555", tickwidth=1,
        tickvals=X_TICK_VALUES[i], ticktext=X_TICK_LABELS[:len(X_TICK_VALUES[i])],
        tickfont=dict(family=FONT, size=14, color="#444"), ticklabelstandoff=8)
    layout["yaxis" + n] = dict(
        domain=[1 - y1 / H, 1 - y0 / H], anchor=xa, range=p["yr"], showgrid=False, zeroline=False,
        automargin=False, showline=True, mirror=True, linecolor="#333", linewidth=1,
        ticks="outside", ticklen=6, tickcolor="#555", tickwidth=1,
        tickvals=Y_TICK_VALUES[i], ticktext=["%.2f" % v for v in Y_TICK_VALUES[i]],
        tickangle=-90, tickfont=dict(family=FONT, size=14, color="#444"), ticklabelstandoff=6)

    fig.add_trace(go.Scatter(x=xs(p["mod"]), y=ys(p["mod"]), mode="markers", xaxis=xa, yaxis=ya,
                             showlegend=False, hoverinfo="skip",
                             marker=dict(symbol="circle-open", size=9, color="black", line=dict(width=1.1))))
    fig.add_trace(go.Scatter(x=xs(p["great"]), y=ys(p["great"]), mode="markers", xaxis=xa, yaxis=ya,
                             showlegend=False, hoverinfo="skip",
                             marker=dict(symbol="circle-open", size=9, color=PURPLE_PT, line=dict(width=1.1))))
    if p["vg"]:
        fig.add_trace(go.Scatter(x=xs(p["vg"]), y=ys(p["vg"]), mode="markers", xaxis=xa, yaxis=ya,
                                 showlegend=False, hoverinfo="skip",
                                 marker=dict(symbol="circle", size=9, color=RED)))
    # legend entries
    leg_styles = [dict(symbol="circle", size=6, color=RED),
                  dict(symbol="circle-open", size=6, color="#B79ACF", line=dict(width=1)),
                  dict(symbol="circle-open", size=6, color="#34347A", line=dict(width=1))]
    for name, st in zip(LEGEND_NAMES, leg_styles):
        fig.add_trace(go.Scatter(x=[None], y=[None], mode="markers", name=name, xaxis=xa, yaxis=ya,
                                 legend=lg, marker=st))
    layout[lg] = dict(x=p["legend_left"] / W, y=1 - p["legend_top"] / H, xanchor="left", yanchor="top",
                      bgcolor="white", bordercolor="#333", borderwidth=1, tracegroupgap=0,
                      font=dict(family=FONT, size=14, color="#333"), itemsizing="trace")

    for (val, col, wdt) in p["lines"]:
        shapes.append(dict(type="line", xref=xa + " domain", x0=0, x1=1, yref=ya, y0=val, y1=val,
                           line=dict(color=col, width=wdt), layer="below"))

    annotations.append(dict(text="<b><i>%s</i></b>" % CHROMOSOMES[i], xref="paper", yref="paper",
                            x=(x0 + x1) / 2 / W, y=1 - (y1 + 61) / H, showarrow=False,
                            xanchor="center", yanchor="middle",
                            font=dict(family=FONT, size=16, color="#111")))
    annotations.append(dict(text="<b><i>Wright's Fst</i></b>", xref="paper", yref="paper",
                            x=18 / W, y=1 - (y0 + y1) / 2 / H, showarrow=False, textangle=-90,
                            xanchor="center", yanchor="middle",
                            font=dict(family=FONT, size=18, color="#111")))
    annotations.append(dict(text="<b>%s</b>" % PANEL_LABELS[i], xref="paper", yref="paper",
                            x=15 / W, y=1 - (y0 - 5) / H, showarrow=False,
                            xanchor="left", yanchor="middle",
                            font=dict(family=FONT, size=19, color="#111")))

layout["shapes"] = shapes
layout["annotations"] = annotations
fig.update_layout(**layout)
fig.write_html("out.html")
